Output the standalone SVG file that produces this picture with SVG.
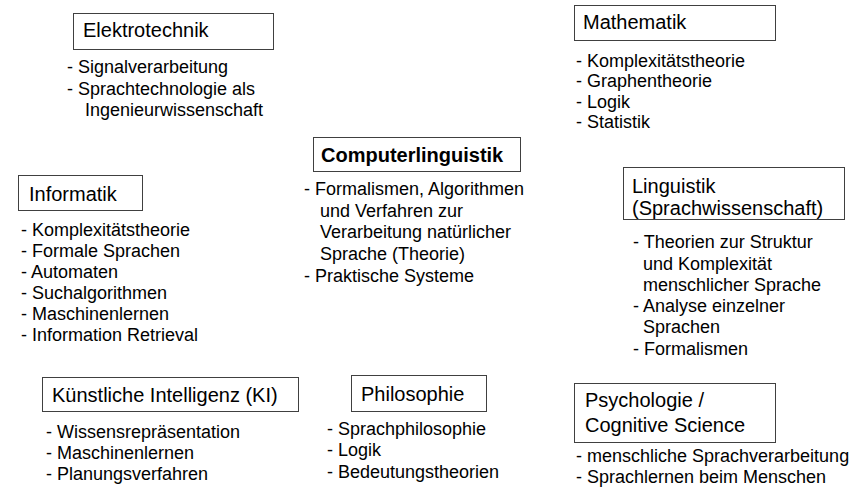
<svg xmlns="http://www.w3.org/2000/svg" width="868" height="493" viewBox="0 0 868 493">
<style>
text { font-family: "Liberation Sans", Arial, sans-serif; fill: #000; }
.box { fill: #fff; stroke: #404040; stroke-width: 1; }
.title { font-size: 20px; }
.bold { font-size: 20px; font-weight: bold; }
.item { font-size: 18px; }
</style>
<rect width="868" height="493" fill="#fff"/>
<g id="connectors"/>
<g id="elektrotechnik">
<rect class="box" x="73.5" y="13.5" width="200" height="36"/>
<text class="title" x="83" y="37">Elektrotechnik</text>
<text class="item" x="67" y="73">- Signalverarbeitung</text>
<text class="item" x="67" y="95">- Sprachtechnologie als</text>
<text class="item" x="85" y="116">Ingenieurwissenschaft</text>
</g>
<g id="mathematik">
<rect class="box" x="574.5" y="5.5" width="201" height="35"/>
<text class="title" x="583" y="29">Mathematik</text>
<text class="item" x="576" y="67">- Komplexitätstheorie</text>
<text class="item" x="576" y="87">- Graphentheorie</text>
<text class="item" x="576" y="108">- Logik</text>
<text class="item" x="576" y="128">- Statistik</text>
</g>
<g id="computerlinguistik">
<rect class="box" x="313.5" y="137.5" width="207" height="34"/>
<text class="bold" x="321" y="162">Computerlinguistik</text>
<text class="item" x="304" y="195">- Formalismen, Algorithmen</text>
<text class="item" x="320" y="217">und Verfahren zur</text>
<text class="item" x="320" y="238">Verarbeitung natürlicher</text>
<text class="item" x="320" y="260">Sprache (Theorie)</text>
<text class="item" x="304" y="282">- Praktische Systeme</text>
</g>
<g id="informatik">
<rect class="box" x="18.5" y="175.5" width="124" height="35"/>
<text class="title" x="29" y="201">Informatik</text>
<text class="item" x="21" y="236">- Komplexitätstheorie</text>
<text class="item" x="21" y="257">- Formale Sprachen</text>
<text class="item" x="21" y="278">- Automaten</text>
<text class="item" x="21" y="299">- Suchalgorithmen</text>
<text class="item" x="21" y="320">- Maschinenlernen</text>
<text class="item" x="21" y="341">- Information Retrieval</text>
</g>
<g id="linguistik">
<rect class="box" x="623.5" y="167.5" width="221" height="52"/>
<text class="title" x="632" y="193">Linguistik</text>
<text class="title" x="632" y="215">(Sprachwissenschaft)</text>
<text class="item" x="633" y="248">- Theorien zur Struktur</text>
<text class="item" x="643" y="270">und Komplexität</text>
<text class="item" x="643" y="291">menschlicher Sprache</text>
<text class="item" x="633" y="312">- Analyse einzelner</text>
<text class="item" x="643" y="333">Sprachen</text>
<text class="item" x="633" y="355">- Formalismen</text>
</g>
<g id="ki">
<rect class="box" x="42.5" y="377.5" width="256" height="34"/>
<text class="title" x="52" y="402">Künstliche Intelligenz (KI)</text>
<text class="item" x="46" y="438">- Wissensrepräsentation</text>
<text class="item" x="46" y="459">- Maschinenlernen</text>
<text class="item" x="46" y="480">- Planungsverfahren</text>
</g>
<g id="philosophie">
<rect class="box" x="351.5" y="375.5" width="135" height="36"/>
<text class="title" x="361" y="401">Philosophie</text>
<text class="item" x="327" y="435">- Sprachphilosophie</text>
<text class="item" x="327" y="456">- Logik</text>
<text class="item" x="327" y="478">- Bedeutungstheorien</text>
</g>
<g id="psychologie">
<rect class="box" x="574.5" y="383.5" width="201" height="59"/>
<text class="title" x="585" y="407">Psychologie /</text>
<text class="title" x="585" y="432">Cognitive Science</text>
<text class="item" x="576" y="462">- menschliche Sprachverarbeitung</text>
<text class="item" x="576" y="483">- Sprachlernen beim Menschen</text>
</g>
</svg>
